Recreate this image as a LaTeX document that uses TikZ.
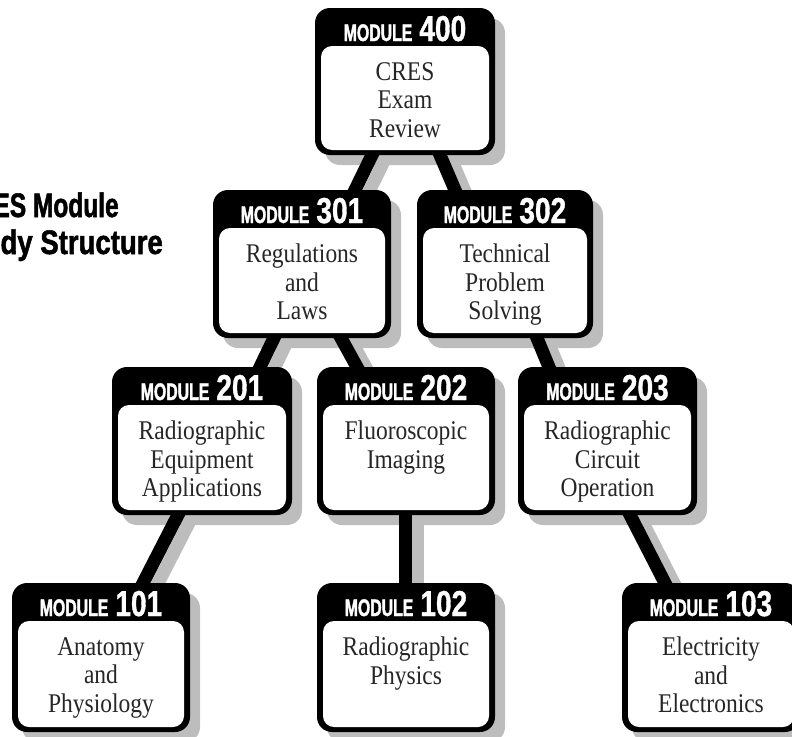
\documentclass[tikz,border=0pt]{standalone}
\usepackage{fontspec}
\setmainfont{Liberation Serif}
\newfontfamily\bodyfont[FakeStretch=0.87]{Liberation Serif}
\newfontfamily\numfont[FakeStretch=0.78, BoldFeatures={FakeBold=1}]{Liberation Sans}
\newfontfamily\modfont[FakeStretch=0.66, BoldFeatures={FakeBold=1.5}]{Liberation Sans}
\newfontfamily\titlefontA[FakeStretch=0.72, BoldFeatures={FakeBold=1.5}]{Liberation Sans}
\newfontfamily\titlefontB[FakeStretch=0.81, BoldFeatures={FakeBold=1.5}]{Liberation Sans}
\usetikzlibrary{calc}
\pgfdeclarelayer{shadowlayer}
\pgfdeclarelayer{linklayer}
\pgfsetlayers{shadowlayer,linklayer,main}

\definecolor{shadowgrey}{gray}{0.74}
\definecolor{ink}{gray}{0.15}

\tikzset{
  modouter/.style={rectangle, fill=black, rounded corners=15pt, inner sep=0pt, outer sep=0pt},
  hdrtext/.style={anchor=base, text=white, inner sep=0pt},
  bodytext/.style={anchor=north, text=ink, align=center, inner sep=0pt, font=\bodyfont\fontsize{27}{28.5}\selectfont},
  link/.style={line width=13pt, draw=black},
  linkshadow/.style={line width=13pt, draw=shadowgrey},
  boxshadow/.style={fill=shadowgrey, rounded corners=15pt},
  innerbox/.style={fill=white, rounded corners=11pt},
  titletext/.style={anchor=base west, inner sep=0pt, text=black},
}

\newcommand\modbox[7]{%
  \node[modouter, minimum width=#4pt, minimum height=#5pt] (#1) at (#2,#3) {};
  \begin{pgfonlayer}{shadowlayer}
    \fill[boxshadow] ($(#1.south west)+(10,10)$) rectangle ($(#1.north east)+(10,10)$);
  \end{pgfonlayer}
  \fill[innerbox] ($(#1.south west)+(6,-5)$) rectangle ($(#1.north east)+(-6,38)$);
  \node[hdrtext] (#1-hdr) at ($(#1.north)+(0,33)$) {\modfont\bfseries\fontsize{24}{24}\selectfont MODULE\hspace{7pt}\numfont\bfseries\fontsize{36}{36}\selectfont #6};
  \node[bodytext] (#1-txt) at ($(#1.north)+(0,54)$) {#7};
}

\newcommand\linkit[4]{%
  \coordinate (#1-#3-a) at ($(#1.south west)+(#2)$);
  \coordinate (#1-#3-b) at ($(#3.north west)+(#4)$);
  \begin{pgfonlayer}{shadowlayer}
    \draw[linkshadow] ($(#1-#3-a)+(12,6)$) -- ($(#1-#3-b)+(12,6)$);
  \end{pgfonlayer}
  \begin{pgfonlayer}{linklayer}
    \draw[link] (#1-#3-a) -- (#1-#3-b);
  \end{pgfonlayer}
}

\begin{document}
\begin{tikzpicture}[x=1pt, y=-1pt]
  \useasboundingbox (0,0) rectangle (792,736);

  \node[titletext, font=\titlefontA\bfseries\fontsize{34}{34}\selectfont] (title1) at (-42,217) {CRES Module};
  \node[titletext, font=\titlefontB\bfseries\fontsize{34}{34}\selectfont] (title2) at (-44,254) {Study Structure};

  \modbox{m400}{405}{81.5}{180}{147}{400}{CRES\\Exam\\Review}
  \modbox{m301}{302}{264}{178}{148}{301}{Regulations\\and\\Laws}
  \modbox{m302}{505}{264}{176}{148}{302}{Technical\\Problem\\Solving}
  \modbox{m201}{202}{441}{180}{148}{201}{Radiographic\\Equipment\\Applications}
  \modbox{m202}{406}{441}{178}{148}{202}{Fluoroscopic\\Imaging}
  \modbox{m203}{607.5}{441}{179}{148}{203}{Radiographic\\Circuit\\Operation}
  \modbox{m101}{101}{657.5}{178}{149}{101}{Anatomy\\and\\Physiology}
  \modbox{m102}{406}{657.5}{178}{149}{102}{Radiographic\\Physics}
  \modbox{m103}{711}{657.5}{178}{149}{103}{Electricity\\and\\Electronics}

  \linkit{m400}{61.9,-10}{m301}{137.1,10}
  \linkit{m400}{120.7,-10}{m302}{42.3,10}
  \linkit{m301}{65.8,-10}{m201}{143.2,10}
  \linkit{m301}{122.5,-10}{m202}{45.5,10}
  \linkit{m302}{115.9,-10}{m203}{35.1,10}
  \linkit{m201}{71.1,-10}{m101}{125.9,10}
  \linkit{m202}{88,-10}{m102}{88,10}
  \linkit{m203}{106.9,-10}{m103}{48.1,10}
\end{tikzpicture}
\end{document}
